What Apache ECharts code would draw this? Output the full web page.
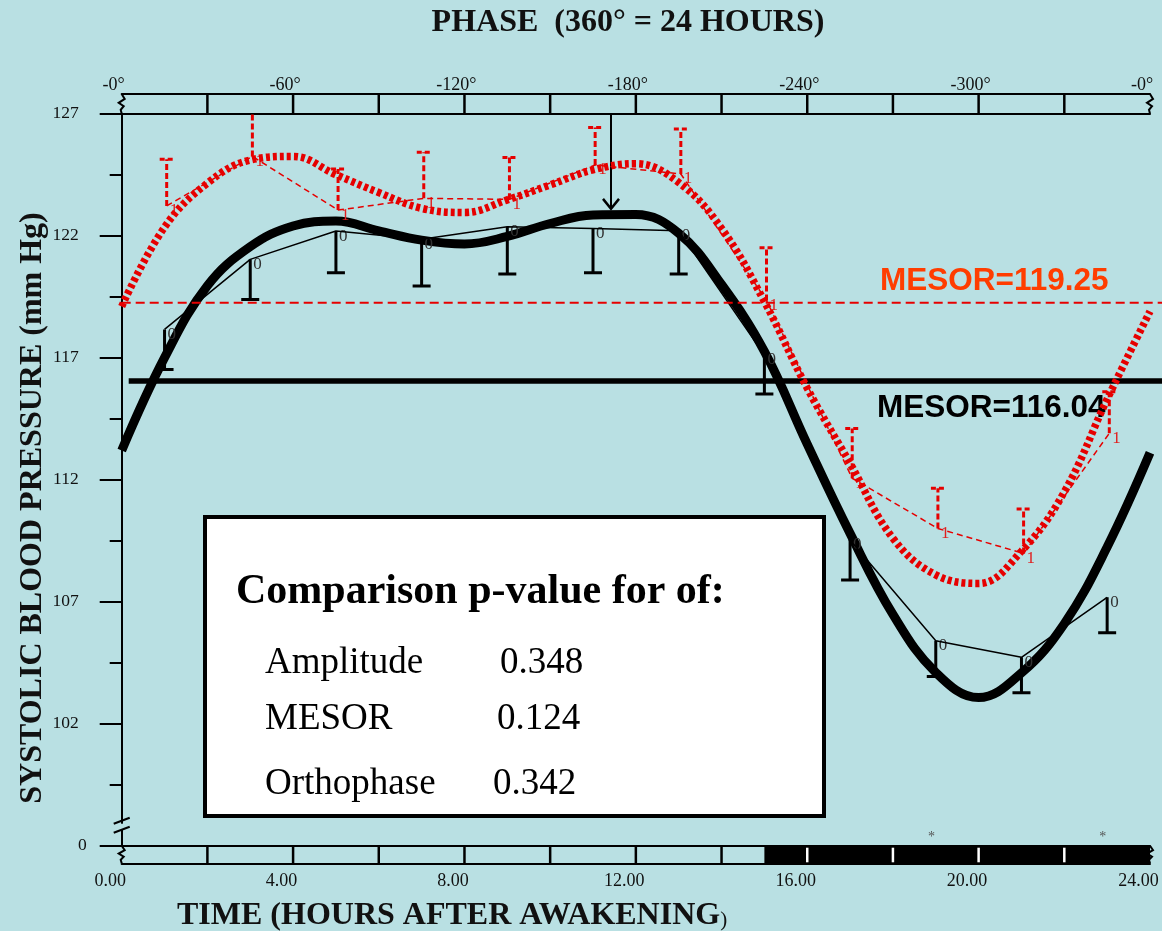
<!DOCTYPE html>
<html><head><meta charset="utf-8">
<script src="https://cdn.jsdelivr.net/npm/echarts@6/dist/echarts.min.js"></script>
<style>html,body{margin:0;padding:0;background:#b9e0e3;}#c{width:1162px;height:931px;}</style>
</head><body><div id="c"></div>
<script>
// ---------------- data ----------------
const timeTickLabels = ['0.00','4.00','8.00','12.00','16.00','20.00','24.00'];
const phaseTickLabels = ['-0°','-60°','-120°','-180°','-240°','-300°','-0°'];
const barTickHours = [2,4,6,8,10,12,14,16,18,20,22];
const sleepSpan = [15, 24];
const asteriskHours = [18.9, 22.9];

const group0Hours = [1,3,5,7,9,11,13,15,17,19,21,23];
const group0Mean  = [118.16,121.03,122.19,121.85,122.37,122.30,122.20,117.11,109.53,105.40,104.72,107.18];
const group0Low   = [116.52,119.39,120.48,119.94,120.43,120.48,120.43,115.51,107.89,103.93,103.27,105.73];

const group1Hours = [1.05,3.05,5.05,7.05,9.05,11.05,13.05,15.05,17.05,19.05,21.05,23.05];
const group1Mean  = [123.22,125.25,123.05,123.53,123.49,124.90,124.53,119.34,112.06,110.00,108.98,113.90];
const group1High  = [125.13,128.50,124.73,125.42,125.20,126.43,126.37,121.51,114.10,111.65,110.80,115.60];

const curveHours = [0,1,2,3,4,5,6,7,8,9,10,11,12,13,14,15,16,17,18,19,20,21,22,23,24];
const curve0 = [113.2,117.0,119.95,121.55,122.4,122.6,122.2,121.82,121.66,121.97,122.5,122.85,122.87,122.1,120.0,117.26,113.46,109.8,106.48,104.1,103.07,104.08,106.1,109.24,113.1];
const curve1 = [119.1,122.35,124.15,125.1,125.25,124.5,123.77,123.12,122.95,123.47,124.08,124.7,124.95,124.18,122.3,119.3,115.75,112.67,109.6,108.1,107.75,109.07,111.5,115.3,118.9];

const mesor0 = 116.04, mesor1 = 119.25;
const orthophase = [11.42, 123.1];
const pRows = [['Amplitude','0.348'],['MESOR','0.124'],['Orthophase','0.342']];

// ---------------- chart ----------------
const BG = '#b9e0e3', RED = '#e60000', SERIF = '"Liberation Serif", "Times New Roman", serif', SANS = '"Liberation Sans", Arial, sans-serif';
const chart = echarts.init(document.getElementById('c'), null, {renderer:'canvas'});
const TOPBAR = 19.7, BOTBAR = 17.6;

function errBars(hours, mean, end, color, label, dashed, labColor){
  return {
    type:'custom', coordinateSystem:'cartesian2d', clip:true, z:3,
    data: hours.map((h,i)=>[h, mean[i], end[i]]),
    renderItem(params, api){
      const p0 = api.coord([api.value(0), api.value(1)]);
      const p1 = api.coord([api.value(0), api.value(2)]);
      const ls = {stroke:color, lineWidth:3, lineDash: dashed ? [6,3] : null};
      return {type:'group', children:[
        {type:'line', shape:{x1:p0[0],y1:p0[1],x2:p1[0],y2:p1[1]}, style:ls},
        {type:'line', shape:{x1:p1[0]-(dashed?7:9),y1:p1[1],x2:p1[0]+(dashed?7:9),y2:p1[1]}, style:Object.assign({},ls,{lineDash: dashed?[5,3]:null})},
        {type:'text', x:p0[0]+3, y:p0[1]+5, style:{text:label, font:'17px '+SERIF, fill:labColor, verticalAlign:'middle'}}
      ]};
    }
  };
}

const option = {
  backgroundColor: BG,
  animation:false,
  grid:{left:121.7, right:12, top:113.7, bottom:85.3, containLabel:false},
  xAxis:[
    {type:'value', position:'bottom', min:0, max:24, interval:4,
     axisLine:{lineStyle:{color:'#000', width:2}}, axisTick:{show:false}, splitLine:{show:false},
     axisLabel:{formatter:v=>timeTickLabels[v/4], margin:27, padding:[0,23,0,0], color:'#111', fontFamily:SERIF, fontSize:18}},
    {type:'value', position:'top', min:0, max:24, interval:4,
     axisLine:{lineStyle:{color:'#000', width:2}}, axisTick:{show:false}, splitLine:{show:false},
     axisLabel:{formatter:v=>phaseTickLabels[v/4], margin:19, padding:[0,16,0,0], color:'#111', fontFamily:SERIF, fontSize:18}},
    {type:'value', position:'top', offset:TOPBAR, min:0, max:24,
     axisLine:{lineStyle:{color:'#000', width:2}}, axisTick:{show:false}, axisLabel:{show:false}, splitLine:{show:false}},
    {type:'value', position:'bottom', offset:BOTBAR, min:0, max:24,
     axisLine:{lineStyle:{color:'#000', width:2}}, axisTick:{show:false}, axisLabel:{show:false}, splitLine:{show:false}}
  ],
  yAxis:[{type:'value', min:97, max:127, interval:5,
    axisLine:{lineStyle:{color:'#000', width:2}},
    axisTick:{length:22, lineStyle:{color:'#000', width:2}},
    minorTick:{show:true, splitNumber:2, length:12, lineStyle:{color:'#000', width:2}},
    splitLine:{show:false},
    axisLabel:{margin:35, color:'#111', fontFamily:SERIF, fontSize:17.5,
      formatter:v=> v===97 ? '{z|0}' : '{n|'+v+'}',
      rich:{n:{padding:[0,8,0,0], fontFamily:SERIF, fontSize:17.5, color:'#111'}, z:{fontFamily:SERIF, fontSize:17.5, color:'#111'}}}
  }],
  series:[
    // black curve
    {type:'line', data:curveHours.map((h,i)=>[h, curve0[i]]), smooth:0.4, symbol:'none', lineStyle:{color:'#000', width:9}, z:2},
    // black mesor
    {type:'custom', clip:false, z:2, data:[[0, mesor0]], renderItem(p, api){
      const a = api.coord([0, api.value(1)]);
      return {type:'line', shape:{x1:a[0]+7, y1:a[1], x2:api.getWidth(), y2:a[1]}, style:{stroke:'#000', lineWidth:5.5}};
    }},
    // black thin means line
    {type:'line', data:group0Hours.map((h,i)=>[h, group0Mean[i]]), symbol:'none', lineStyle:{color:'#000', width:1.5}, z:3},
    errBars(group0Hours, group0Mean, group0Low, '#000', '0', false, '#333'),
    // orthophase arrow
    {type:'custom', clip:false, z:4, data:[orthophase], renderItem(p, api){
      const t = api.coord([api.value(0), 127]);
      const b = api.coord([api.value(0), api.value(1)]);
      return {type:'group', children:[
        {type:'line', shape:{x1:t[0],y1:t[1],x2:b[0],y2:b[1]}, style:{stroke:'#000', lineWidth:2}},
        {type:'polyline', shape:{points:[[b[0]-8,b[1]-10],[b[0],b[1]],[b[0]+8,b[1]-10]]}, style:{stroke:'#000', lineWidth:2.5, fill:null}}
      ]};
    }},
    // red curve
    {type:'line', data:curveHours.map((h,i)=>[h, curve1[i]]), smooth:0.4, symbol:'none', lineStyle:{color:RED, width:7.5, type:[4,3]}, z:5},
    // red thin means line
    {type:'line', data:group1Hours.map((h,i)=>[h, group1Mean[i]]), symbol:'none', lineStyle:{color:RED, width:1.5, type:[6,4]}, z:5},
    errBars(group1Hours, group1Mean, group1High, RED, '1', true, '#e02020'),
    // red mesor
    {type:'custom', clip:false, z:6, data:[[0, mesor1]], renderItem(p, api){
      const a = api.coord([0, api.value(1)]);
      return {type:'line', shape:{x1:a[0], y1:a[1], x2:api.getWidth(), y2:a[1]}, style:{stroke:RED, lineWidth:2, lineDash:[9,5]}};
    }},
    // sleep bar
    {type:'custom', clip:false, z:6, data:[sleepSpan], renderItem(p, api){
      const a = api.coord([api.value(0), 97]);
      const b = api.coord([api.value(1), 97]);
      return {type:'rect', shape:{x:a[0], y:a[1], width:b[0]-a[0], height:BOTBAR}, style:{fill:'#000'}};
    }},
    // bar ticks
    {type:'custom', clip:false, z:7, data:barTickHours.map(h=>[h]), renderItem(p, api){
      const h = api.value(0);
      const t = api.coord([h, 127]);
      const b = api.coord([h, 97]);
      const inSleep = h > sleepSpan[0];
      return {type:'group', children:[
        {type:'line', shape:{x1:t[0],y1:t[1],x2:t[0],y2:t[1]-TOPBAR}, style:{stroke:'#000', lineWidth:2.5}},
        {type:'line', shape:{x1:b[0],y1:b[1]+(inSleep?2:0),x2:b[0],y2:b[1]+BOTBAR-(inSleep?1:0)}, style:{stroke:inSleep?'#fff':'#000', lineWidth:2.5}}
      ]};
    }},
    // asterisks
    {type:'custom', clip:false, z:7, data:asteriskHours.map(h=>[h]), renderItem(p, api){
      const b = api.coord([api.value(0), 97]);
      return {type:'text', x:b[0], y:b[1]-8, style:{text:'*', font:'14px '+SERIF, fill:'#555', align:'center', verticalAlign:'middle'}};
    }}
  ]
};
chart.setOption(option);

// decorations derived from axis positions
const tl = chart.convertToPixel({gridIndex:0}, [0, 127]);
const br = chart.convertToPixel({gridIndex:0}, [24, 97]);
function squiggle(x, y0, y1){
  const d = y1 - y0;
  return {type:'polyline', z:20, shape:{points:[[x,y0],[x+3,y0+d*0.25],[x-3,y0+d*0.45],[x+2,y0+d*0.62],[x-1,y0+d*0.8],[x,y1]]}, style:{stroke:'#000', lineWidth:2, fill:null}};
}
function cover(x, y0, y1){
  return {type:'rect', z:19, shape:{x:x-1.5, y:y0+1.5, width:3, height:y1-y0-3}, style:{fill:BG}};
}
const breakY = br[1] - 20;
const graphics = [
  cover(tl[0], tl[1]-TOPBAR, tl[1]), squiggle(tl[0], tl[1]-TOPBAR, tl[1]),
  cover(br[0], tl[1]-TOPBAR, tl[1]), squiggle(br[0], tl[1]-TOPBAR, tl[1]),
  squiggle(tl[0], br[1], br[1]+BOTBAR),
  squiggle(br[0], br[1], br[1]+BOTBAR),
  {type:'rect', z:19, shape:{x:tl[0]-2, y:breakY-2, width:4, height:6}, style:{fill:BG}},
  {type:'line', z:20, shape:{x1:tl[0]-8, y1:breakY-2, x2:tl[0]+8, y2:breakY-8}, style:{stroke:'#000', lineWidth:2}},
  {type:'line', z:20, shape:{x1:tl[0]-8, y1:breakY+7, x2:tl[0]+8, y2:breakY+1}, style:{stroke:'#000', lineWidth:2}},
  // titles
  {type:'text', z:20, x:628, y:23, style:{text:'PHASE  (360° = 24 HOURS)', font:'bold 32px '+SERIF, fill:'#111', align:'center', verticalAlign:'middle'}},
  {type:'text', z:20, x:177, y:916, style:{text:'{a|TIME (HOURS AFTER AWAKENING}{b|)}', verticalAlign:'middle',
    rich:{a:{font:'bold 32px '+SERIF, fill:'#111'}, b:{font:'21px '+SERIF, fill:'#111', padding:[8,0,0,0]}}}},
  {type:'text', z:20, x:33, y:508, rotation:Math.PI/2, style:{text:'SYSTOLIC BLOOD PRESSURE (mm Hg)', font:'bold 32px '+SERIF, fill:'#111', align:'center', verticalAlign:'middle'}},
  // mesor labels (below series)
  {type:'text', z:1, x:880, y:281, style:{text:'MESOR='+mesor1.toFixed(2), font:'bold 31.5px '+SANS, fill:'#ff3d00', verticalAlign:'middle'}},
  {type:'text', z:1, x:877, y:408, style:{text:'MESOR='+mesor0.toFixed(2), font:'bold 31.5px '+SANS, fill:'#000', verticalAlign:'middle'}},
  // comparison box
  {type:'rect', z:30, shape:{x:205, y:517, width:619, height:299}, style:{fill:'#fff', stroke:'#000', lineWidth:4}},
  {type:'text', z:31, x:236, y:592, style:{text:'Comparison p-value for of:', font:'bold 42px '+SERIF, fill:'#000', verticalAlign:'middle'}}
];
const rowY = [663, 719, 784], valX = [500, 497, 493];
pRows.forEach((r,i)=>{
  graphics.push({type:'text', z:31, x:265, y:rowY[i], style:{text:r[0], font:'37px '+SERIF, fill:'#000', verticalAlign:'middle'}});
  graphics.push({type:'text', z:31, x:valX[i], y:rowY[i], style:{text:r[1], font:'37px '+SERIF, fill:'#000', verticalAlign:'middle'}});
});
chart.setOption({graphic:graphics});
</script></body></html>
